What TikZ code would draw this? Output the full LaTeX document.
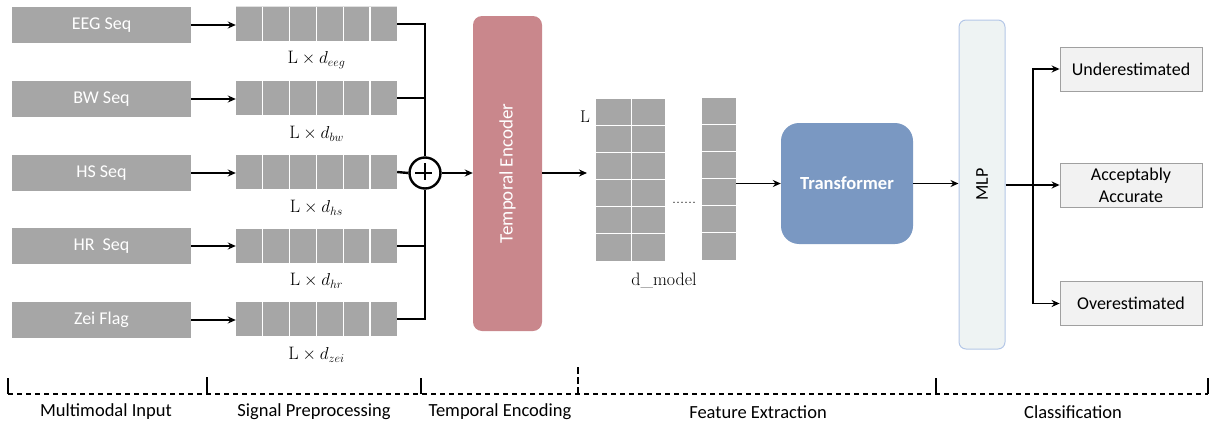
\documentclass[tikz,border=0pt]{standalone}
\usepackage{fontspec}
\newfontfamily\carl{Carlito}
\usetikzlibrary{arrows.meta,calc}
\definecolor{boxgray}{HTML}{A6A6A6}
\definecolor{tecol}{HTML}{C9878C}
\definecolor{trcol}{HTML}{7A98C2}
\definecolor{mlpfill}{HTML}{EEF3F3}
\definecolor{mlpdraw}{HTML}{B4C7E7}
\definecolor{outfill}{HTML}{F2F2F2}
\definecolor{outdraw}{HTML}{A0A0A0}
\begin{document}
\begin{tikzpicture}[x=1pt,y=-1pt,
  inbox/.style={fill=boxgray, minimum width=179pt, minimum height=36pt, inner sep=0pt, text=white, font=\carl\fontsize{18}{21}\selectfont},
  gridrow/.style={fill=boxgray, minimum width=161pt, minimum height=34pt, inner sep=0pt},
  sep/.style={draw=white, line width=1.2pt},
  dimlab/.style={font=\fontsize{18}{20}\selectfont, inner sep=0pt},
  arr/.style={line width=1.8pt, -{Stealth[length=8pt,width=7pt]}},
  bus/.style={line width=2.4pt},
  col/.style={fill=boxgray, minimum height=162pt, inner sep=0pt},
  outbox/.style={fill=outfill, draw=outdraw, line width=0.8pt, minimum width=142pt, minimum height=44pt, inner sep=0pt, align=center, font=\carl\fontsize{18}{22}\selectfont},
  stage/.style={font=\carl\fontsize{18.5}{21}\selectfont, inner sep=0pt},
  brace/.style={line width=1.3pt, dash pattern=on 5pt off 4pt},
  tick/.style={line width=1.3pt}
]
\useasboundingbox (0,0) rectangle (1213,431);

% inputs
\node[inbox] (i1) at (101.5,25) {EEG Seq};
\node[inbox] (i2) at (101.5,99) {BW Seq};
\node[inbox] (i3) at (101.5,173) {HS Seq};
\node[inbox] (i4) at (101.5,246) {HR\ \ Seq};
\node[inbox] (i5) at (101.5,320) {Zei Flag};

% grids
\foreach \k/\yy in {1/24,2/98,3/172,4/246,5/319}{
  \node[gridrow] (g\k) at (316.5,\yy) {};
  \foreach \i in {1,...,5}
    \draw[sep] ([xshift=\i*26.83pt]g\k.north west) -- ([xshift=\i*26.83pt]g\k.south west);
}
\draw[draw=black!12, line width=0.8pt] (g1.north west) -- (g1.north east);
\node[dimlab] (l1) at (316.5,60) {$\mathrm{L}\times d_{eeg}$};
\node[dimlab] (l2) at (316.5,134) {$\mathrm{L}\times d_{bw}$};
\node[dimlab] (l3) at (316.5,208) {$\mathrm{L}\times d_{hs}$};
\node[dimlab] (l4) at (316.5,281) {$\mathrm{L}\times d_{hr}$};
\node[dimlab] (l5) at (316.5,355) {$\mathrm{L}\times d_{zei}$};

\foreach \k in {1,...,5}
  \draw[arr] (i\k.east) -- (g\k.west |- i\k.east);

% plus
\node[circle, draw, line width=2.4pt, minimum size=31pt, inner sep=0pt, fill=white] (plus) at (425,173) {};
\draw[line width=2.2pt] (plus.west) ++(7,0) -- ++(17,0);
\draw[line width=2.2pt] (plus.north) ++(0,7) -- ++(0,17);

\draw[bus] (g1.east) -| (plus.north);
\draw[bus] (g5.east) -| (plus.south);
\draw[bus] (g2.east) -- (g2.east -| plus.center);
\draw[bus] (g4.east) -- (g4.east -| plus.center);
\draw[bus] (g3.east) -- (plus.west);

% temporal encoder
\node[fill=tecol, rounded corners=9pt, minimum width=69pt, minimum height=315pt, inner sep=0pt] (te) at (507.5,173.5) {};
\node[rotate=90, text=white, font=\carl\fontsize{19}{21}\selectfont] (tet) at (te.center) {Temporal Encoder};
\draw[arr] (plus.east) -- (te.west |- plus.east);

% matrix
\node[col, minimum width=35pt] (m1) at (613.5,180) {};
\node[col, minimum width=34pt] (m2) at (648,180) {};
\node[col, minimum width=34pt] (m3) at (719,179) {};
\foreach \m in {m1,m2,m3}{
  \foreach \i in {1,...,5}
    \draw[sep] ([yshift=-\i*27pt]\m.north west) -- ([yshift=-\i*27pt]\m.north east);
}
\draw[sep] (m1.north east) -- (m1.south east);
\node[font=\fontsize{17}{19}\selectfont, inner sep=0pt] (lL) at (585,117) {L};
\node[font=\fontsize{16}{18}\selectfont, inner sep=0pt] (dots) at (684,203) {......};
\node[font=\fontsize{18}{20}\selectfont, inner sep=0pt] (dm) at (664,280) {d\_model};
\coordinate (mend) at (587,173);
\draw[arr] (te.east |- plus.east) -- (mend);

% transformer
\node[fill=trcol, rounded corners=18pt, minimum width=132pt, minimum height=121pt, inner sep=0pt, text=white, font=\carl\bfseries\fontsize{18.5}{20}\selectfont] (tr) at (847,183.5) {Transformer};
\draw[arr] (m3.east |- tr.west) -- (tr.west);

% MLP
\node[fill=mlpfill, draw=mlpdraw, line width=1pt, rounded corners=7pt, minimum width=46pt, minimum height=329pt, inner sep=0pt] (mlp) at (982,184.5) {};
\node[rotate=90, font=\carl\fontsize{18}{20}\selectfont] (mlpt) at (mlp.center) {MLP};
\draw[arr] (tr.east) -- (tr.east -| mlp.west);

% outputs
\node[outbox] (o1) at (1131,69) {Underestimated};
\node[outbox] (o2) at (1131,185) {Acceptably\\Accurate};
\node[outbox] (o3) at (1131,303.5) {Overestimated};
\coordinate (br) at (1033,185);
\draw[bus] (mlp.east |- br) -- (br);
\draw[arr] (br) |- (o1.west);
\draw[arr] (br) -- (o2.west);
\draw[arr] (br) |- (o3.west);

% stages
\coordinate (b0) at (8,394);
\coordinate (b1) at (207,394);
\coordinate (b2) at (421,394);
\coordinate (b3) at (578,394);
\coordinate (b4) at (936,394);
\coordinate (b5) at (1208,394);
\draw[brace] (b0) -- (b5);
\draw[tick] (b0) -- ++(0,-16);
\draw[tick] (b1) -- ++(0,-17);
\draw[tick] (b2) -- ++(0,-16);
\draw[tick, dash pattern=on 7pt off 3pt] (b3) -- ++(0,-28);
\draw[tick] (b4) -- ++(0,-16);
\draw[tick] (b5) -- ++(0,-16);
\node[stage] (s1) at (106,412) {Multimodal Input};
\node[stage] (s2) at (314,412) {Signal Preprocessing};
\node[stage] (s3) at (500,412) {Temporal Encoding};
\node[stage] (s4) at (758,412) {Feature Extraction};
\node[stage] (s5) at (1073,412) {Classification};
\end{tikzpicture}
\end{document}
